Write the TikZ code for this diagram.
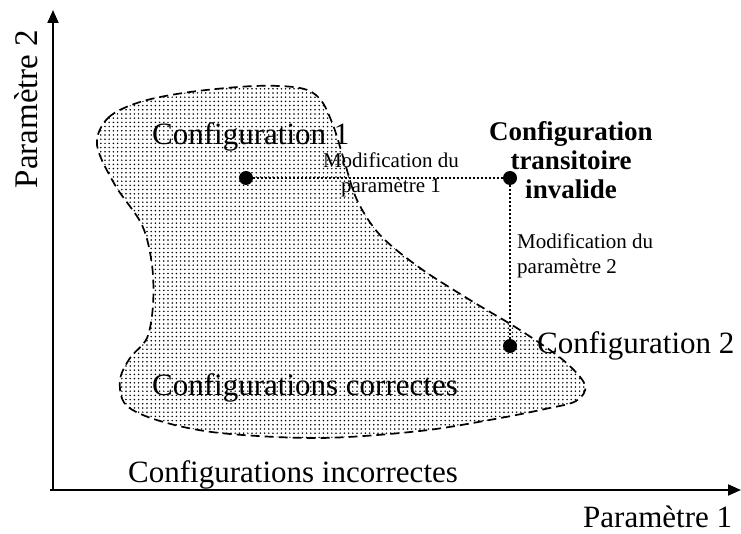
\documentclass[tikz,border=0pt]{standalone}
\usepackage{fontspec}
\setmainfont{Liberation Serif}
\usetikzlibrary{patterns,arrows.meta}
\pgfdeclarepatternformonly{mydots}{\pgfqpoint{-1pt}{-1pt}}{\pgfqpoint{1pt}{1pt}}{\pgfqpoint{4.2pt}{4.2pt}}{\pgfpathcircle{\pgfqpoint{0pt}{0pt}}{0.85pt}\pgfusepath{fill}}
\begin{document}
\begin{tikzpicture}[x=1pt,y=-1pt,
  axis/.style={line width=2pt,-{Triangle[length=13pt,width=11pt]}},
  blob/.style={line width=1.7pt,dash pattern=on 9pt off 5pt,pattern=mydots},
  pointnode/.style={circle,fill=black,inner sep=0pt,minimum size=14pt},
  dotline/.style={line width=2pt,dash pattern=on 2pt off 2pt},
  big/.style={font=\fontsize{31}{36}\selectfont,inner sep=0pt},
  small/.style={font=\fontsize{21}{25.5}\selectfont,inner sep=0pt},
  boldlbl/.style={font=\fontsize{27}{29}\selectfont\bfseries,align=center,inner sep=0pt}]
\useasboundingbox (0,0) rectangle (741,534);
% region
\draw[blob] plot[smooth cycle,tension=0.55] coordinates {
 (97,145) (108,118) (140,102) (190,92) (255,86) (300,88) (320,99) (333,125)
 (344,160) (357,200) (380,235) (420,268) (470,300) (520,330) (563,360)
 (585,385) (576,401) (545,409) (495,419) (420,431) (320,438) (220,433)
 (160,421) (126,405) (120,380) (130,358) (147,338) (153,305) (152,265)
 (142,225) (115,185)};
% axes
\coordinate (O) at (53,490);
\coordinate (xstart) at (50,490);
\coordinate (ytop) at (53,10);
\coordinate (xend) at (741,490);
\draw[axis] (O) -- (ytop);
\draw[axis] (xstart) -- (xend);
% points
\node[pointnode] (c1) at (246,178) {};
\node[pointnode] (ct) at (510,178) {};
\node[pointnode] (c2) at (510,346) {};
\draw[dotline] (c1) -- (ct) -- (c2);
% labels
\node[big,anchor=base west] (l1) at (152,145) {Configuration 1};
\node[big,anchor=base west] (l2) at (537,353) {Configuration 2};
\node[big,anchor=base west] (lok) at (152,395) {Configurations correctes};
\node[big,anchor=base west] (lko) at (128,482) {Configurations incorrectes};
\node[big,anchor=base west] (p1) at (583,527) {Paramètre 1};
\node[big,anchor=base,rotate=90,font=\fontsize{33}{36}\selectfont] (p2) at (37,109) {Paramètre 2};
\node[small,align=center] (m1) at (391,175) {Modification du\\paramètre 1};
\node[small,align=left,anchor=west] (m2) at (517,256) {Modification du\\paramètre 2};
\node[boldlbl] (lt) at (571,160) {Configuration\\transitoire\\invalide};
\end{tikzpicture}
\end{document}
